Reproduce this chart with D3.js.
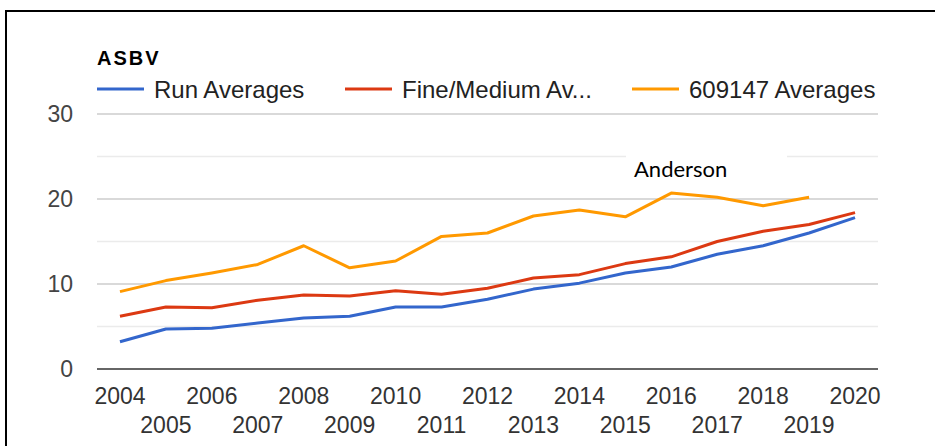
<!DOCTYPE html>
<html>
<head>
<meta charset="utf-8">
<script src="https://cdn.jsdelivr.net/npm/d3@7"></script>
<style>
    body { margin: 0; background: #fff; }
    svg { display: block; }
</style>
</head>
<body>
<svg id="chart"></svg>
<script>
{
    const width = 935, height = 446;

    const years = ["2004", "2005", "2006", "2007", "2008", "2009", "2010", "2011", "2012",
                   "2013", "2014", "2015", "2016", "2017", "2018", "2019", "2020"];
    const runAverages = [3.2, 4.7, 4.8, 5.4, 6.0, 6.2, 7.3, 7.3, 8.2, 9.4, 10.1, 11.3, 12.0, 13.5, 14.5, 16.0, 17.8];
    const fineMediumAverages = [6.2, 7.3, 7.2, 8.1, 8.7, 8.6, 9.2, 8.8, 9.5, 10.7, 11.1, 12.4, 13.2, 15.0, 16.2, 17.0, 18.4];
    const sireAverages = [9.1, 10.4, 11.3, 12.3, 14.5, 11.9, 12.7, 15.6, 16.0, 18.0, 18.7, 17.9, 20.7, 20.2, 19.2, 20.2, null];
    const seriesNames = ["Run Averages", "Fine/Medium Av...", "609147 Averages"];
    const seriesColors = ["#3366cc", "#dc3912", "#ff9900"];
    const majorTicks = [0, 10, 20, 30];
    const minorTicks = [5, 15, 25];

    const series = [runAverages, fineMediumAverages, sireAverages];

    const svg = d3.select("#chart")
        .attr("width", width)
        .attr("height", height);

    svg.append("rect")
        .attr("width", width)
        .attr("height", height)
        .attr("fill", "#fff");

    // frame (top and left edges only, like the cropped screenshot)
    svg.append("path")
        .attr("d", "M6,446 V11 H935")
        .attr("fill", "none")
        .attr("stroke", "#000")
        .attr("stroke-width", 2);

    const xScale = d3.scaleBand()
        .domain(years)
        .range([97, 878]);

    const yScale = d3.scaleLinear()
        .domain([0, 30])
        .range([369, 114]);

    const labelFont = "'Liberation Sans', Arial, sans-serif";

    // gridlines
    svg.append("g")
        .selectAll("line")
        .data(minorTicks)
        .enter().append("line")
            .attr("x1", 97).attr("x2", 878)
            .attr("y1", d => yScale(d)).attr("y2", d => yScale(d))
            .attr("stroke", "#ebebeb")
            .attr("stroke-width", 1.5);

    svg.append("g")
        .selectAll("line")
        .data(majorTicks.filter(d => d != 0))
        .enter().append("line")
            .attr("x1", 97).attr("x2", 878)
            .attr("y1", d => yScale(d)).attr("y2", d => yScale(d))
            .attr("stroke", "#cccccc")
            .attr("stroke-width", 1.5);

    // box behind the note
    svg.append("rect")
        .attr("x", 626)
        .attr("y", 146)
        .attr("width", 161)
        .attr("height", 40)
        .attr("fill", "#fff");

    svg.append("text")
        .attr("x", 634)
        .attr("y", 177)
        .attr("font-family", "Lato, 'Open Sans', sans-serif")
        .attr("font-size", 22)
        .attr("fill", "#000")
        .text("Anderson");

    // y tick labels
    svg.append("g")
        .selectAll("text")
        .data(majorTicks)
        .enter().append("text")
            .attr("x", 73)
            .attr("y", d => yScale(d))
            .attr("dy", "0.35em")
            .attr("text-anchor", "end")
            .attr("font-family", labelFont)
            .attr("font-size", 23)
            .attr("fill", "#444")
            .text(d => d);

    // x tick labels, alternating rows
    svg.append("g")
        .selectAll("text")
        .data(years)
        .enter().append("text")
            .attr("x", d => xScale(d) + xScale.bandwidth() / 2)
            .attr("y", (d, i) => i % 2 == 0 ? 404 : 433)
            .attr("text-anchor", "middle")
            .attr("font-family", labelFont)
            .attr("font-size", 23)
            .attr("fill", "#333")
            .text(d => d);

    // lines
    series.forEach((values, k) => {
        svg.append("path")
            .datum(values.map((v, i) => ({year: years[i], v: v})))
            .attr("fill", "none")
            .attr("stroke", seriesColors[k])
            .attr("stroke-width", 3)
            .attr("stroke-linejoin", "round")
            .attr("d", d3.line()
                .defined(d => d.v != null)
                .x(d => xScale(d.year) + xScale.bandwidth() / 2)
                .y(d => yScale(d.v)));
    });

    // baseline
    svg.append("line")
        .attr("x1", 97).attr("x2", 878)
        .attr("y1", yScale(0)).attr("y2", yScale(0))
        .attr("stroke", "#333")
        .attr("stroke-width", 1.5);

    // title
    svg.append("text")
        .attr("x", 97)
        .attr("y", 65)
        .attr("font-family", labelFont)
        .attr("font-size", 20)
        .attr("font-weight", "bold")
        .attr("letter-spacing", 2)
        .attr("fill", "#000")
        .text("ASBV");

    // legend
    const legendX = [97, 345, 632];
    const legend = svg.selectAll(".legend")
        .data(seriesNames)
        .enter().append("g")
        .attr("class", "legend")
        .attr("transform", (d, i) => `translate(${legendX[i]}, 89)`);

    legend.append("line")
        .attr("x1", 0).attr("x2", 47)
        .attr("stroke", (d, i) => seriesColors[i])
        .attr("stroke-width", 3);

    legend.append("text")
        .attr("x", 57)
        .attr("y", 9)
        .attr("font-family", labelFont)
        .attr("font-size", 24)
        .attr("fill", "#222")
        .text(d => d);
}
</script>
</body>
</html>
